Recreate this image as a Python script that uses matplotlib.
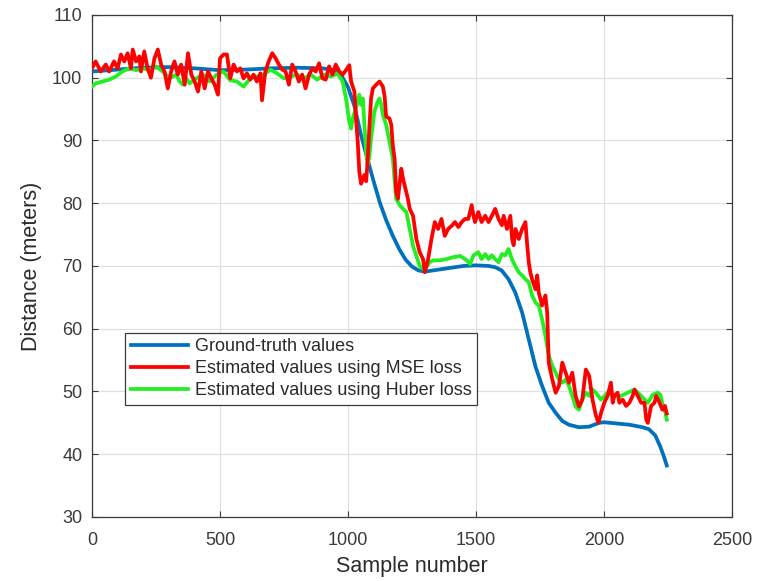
import matplotlib
matplotlib.use("Agg")
import matplotlib.pyplot as plt

plt.rcParams['font.family'] = ['Liberation Sans', 'DejaVu Sans']

# ground truth
gt_x = [0, 100, 200, 300, 400, 500, 600, 700, 800, 900, 950, 975, 1000, 1025, 1050,
        1075, 1100, 1125, 1150, 1175, 1200, 1225, 1250, 1275, 1300, 1350, 1400, 1450,
        1500, 1550, 1575, 1600, 1627, 1653, 1680, 1706, 1732, 1758, 1784, 1811, 1837,
        1863, 1902, 1942, 1981, 2000, 2050, 2100, 2150, 2175, 2200, 2220, 2235, 2245]
gt_y = [101.0, 101.3, 101.6, 101.7, 101.5, 101.2, 101.3, 101.5, 101.6, 101.5, 101.2,
        100.3, 98.5, 95.5, 91.0, 87.2, 83.5, 80.0, 77.2, 74.8, 72.7, 71.0, 69.9, 69.3,
        69.1, 69.4, 69.7, 70.0, 70.1, 70.0, 69.8, 69.3, 67.9, 65.8, 62.6, 58.3, 54.0,
        50.9, 48.2, 46.6, 45.3, 44.7, 44.3, 44.4, 45.0, 45.1, 44.9, 44.7, 44.3, 44.0,
        43.0, 41.2, 39.5, 38.2]

# estimates with MSE loss
mse_x = [0, 14, 34, 54, 67, 86, 100, 113, 126, 139, 152, 159, 172, 185, 191, 204, 217,
         230, 244, 257, 270, 283, 296, 309, 322, 335, 348, 362, 375, 388, 401, 414, 427,
         440, 453, 466, 479, 492, 500, 514, 527, 540, 553, 566, 579, 592, 605, 618, 631,
         644, 658, 664, 677, 690, 704, 717, 730, 743, 756, 769, 782, 795, 808, 821, 834,
         848, 861, 874, 887, 900, 913, 926, 939, 952, 966, 979, 992, 1005, 1012, 1025,
         1031, 1038, 1044, 1051, 1064, 1071, 1077, 1084, 1090, 1097, 1110, 1123, 1136,
         1143, 1149, 1162, 1169, 1175, 1182, 1188, 1195, 1208, 1215, 1221, 1234, 1241,
         1254, 1267, 1280, 1293, 1300, 1313, 1326, 1339, 1352, 1365, 1378, 1391, 1405,
         1418, 1431, 1444, 1457, 1470, 1483, 1490, 1496, 1509, 1522, 1536, 1549, 1562,
         1575, 1588, 1601, 1608, 1621, 1634, 1641, 1647, 1654, 1667, 1680, 1693, 1700,
         1706, 1712, 1719, 1732, 1739, 1745, 1758, 1771, 1778, 1784, 1798, 1811, 1824,
         1837, 1850, 1863, 1876, 1889, 1902, 1915, 1929, 1942, 1955, 1968, 1978, 1990,
         2001, 2014, 2027, 2034, 2040, 2053, 2060, 2073, 2086, 2099, 2112, 2119, 2132,
         2145, 2158, 2165, 2171, 2184, 2197, 2204, 2217, 2228, 2238, 2245]
mse_y = [101.5, 102.6, 101.0, 102.1, 101.0, 102.6, 101.5, 103.7, 102.6, 103.9, 101.5,
         104.5, 102.6, 103.4, 101.0, 104.2, 101.5, 100.0, 103.1, 104.5, 102.1, 101.0,
         98.3, 101.0, 102.6, 100.5, 102.1, 98.9, 103.9, 100.5, 99.4, 97.8, 101.0, 98.3,
         101.0, 99.9, 98.9, 97.3, 103.1, 103.7, 103.7, 99.9, 102.1, 101.0, 101.5, 99.9,
         100.7, 99.7, 100.5, 99.4, 100.7, 96.4, 101.0, 102.6, 103.9, 103.1, 102.1, 101.3,
         101.0, 98.9, 102.1, 101.0, 99.4, 100.5, 98.3, 100.5, 101.5, 101.0, 102.3, 99.9,
         99.7, 101.8, 100.5, 102.1, 101.0, 100.5, 101.2, 102.0, 99.4, 97.8, 93.5, 89.8,
         85.0, 83.1, 84.5, 83.5, 87.1, 92.5, 96.7, 98.3, 98.9, 99.4, 98.6, 97.0, 93.8,
         93.5, 92.5, 89.2, 87.1, 81.8, 80.7, 85.5, 83.9, 82.9, 80.7, 79.1, 78.0, 74.3,
         72.2, 71.1, 69.0, 71.1, 74.3, 77.0, 75.9, 77.5, 74.8, 75.9, 76.4, 77.0, 76.2,
         77.0, 77.5, 77.5, 79.7, 78.0, 77.0, 78.6, 77.0, 78.0, 77.0, 78.0, 79.1, 77.5,
         76.5, 78.0, 75.9, 78.0, 74.3, 73.3, 75.9, 74.3, 75.9, 77.0, 73.3, 70.6, 69.0,
         67.9, 66.3, 68.5, 65.8, 63.7, 65.3, 62.6, 54.6, 51.9, 49.8, 50.9, 54.6, 53.0,
         51.4, 53.0, 49.3, 47.6, 48.7, 53.5, 52.5, 48.7, 46.2, 45.0, 46.8, 48.2, 49.3,
         51.4, 48.2, 49.3, 49.8, 48.2, 48.7, 47.7, 48.2, 49.3, 50.3, 49.3, 48.2, 48.2,
         45.5, 45.0, 47.7, 48.2, 49.3, 48.2, 47.1, 47.7, 46.5]

# estimates with Huber loss
hub_x = [0, 14, 40, 67, 93, 119, 145, 172, 198, 224, 250, 276, 303, 329, 342, 355, 368,
         381, 407, 434, 460, 487, 513, 540, 566, 592, 618, 644, 671, 697, 723, 749, 776,
         802, 828, 854, 880, 906, 933, 959, 979, 992, 1005, 1012, 1018, 1031, 1044,
         1051, 1058, 1064, 1071, 1077, 1084, 1090, 1097, 1103, 1116, 1123, 1130, 1136,
         1149, 1162, 1175, 1188, 1202, 1215, 1228, 1241, 1254, 1267, 1280, 1293, 1306,
         1319, 1333, 1359, 1385, 1411, 1438, 1464, 1477, 1490, 1509, 1522, 1536, 1549,
         1562, 1575, 1588, 1601, 1614, 1627, 1640, 1653, 1667, 1680, 1693, 1706, 1719,
         1732, 1745, 1758, 1771, 1784, 1798, 1811, 1824, 1837, 1850, 1863, 1876, 1889,
         1902, 1915, 1929, 1942, 1955, 1968, 1988, 2014, 2040, 2066, 2093, 2119, 2145,
         2171, 2191, 2210, 2220, 2230, 2240, 2245]
hub_y = [98.6, 99.1, 99.4, 99.7, 100.2, 101.0, 101.5, 101.2, 101.5, 101.2, 101.8, 101.0,
         99.9, 100.5, 99.4, 98.9, 99.9, 99.1, 99.9, 100.5, 99.4, 100.5, 101.0, 99.6,
         99.4, 98.6, 99.9, 100.2, 100.5, 101.3, 100.7, 99.9, 100.2, 100.5, 99.9, 100.5,
         99.7, 100.5, 100.2, 100.7, 99.4, 96.7, 93.0, 91.9, 93.5, 95.1, 97.3, 95.7, 96.7,
         92.5, 88.2, 86.1, 87.7, 90.3, 92.5, 94.6, 96.2, 96.7, 95.7, 94.1, 92.5, 89.8,
         87.1, 80.7, 79.7, 79.1, 78.6, 75.9, 73.2, 71.6, 70.0, 69.5, 69.8, 70.6, 70.9,
         70.9, 71.1, 71.4, 71.6, 70.9, 70.3, 71.7, 72.2, 71.1, 71.9, 71.1, 71.7, 71.1,
         70.6, 71.9, 71.7, 72.7, 71.1, 70.0, 69.0, 68.5, 67.9, 67.4, 65.3, 64.2, 63.7,
         61.5, 58.9, 55.7, 54.1, 53.0, 51.9, 51.4, 51.9, 50.9, 49.3, 47.6, 47.1, 48.7,
         49.8, 49.3, 50.3, 49.8, 48.7, 49.8, 49.3, 49.3, 49.8, 50.3, 49.3, 48.2, 49.5,
         49.8, 49.5, 47.7, 46.6, 45.5]

fig = plt.figure(figsize=(7.63, 5.81), dpi=100)
ax = fig.add_axes([0.1206, 0.1102, 0.8388, 0.864])

lw = 2.7
l1, = ax.plot(gt_x, gt_y, color='#0072BD', lw=lw, label='Ground-truth values', zorder=3)
l3, = ax.plot(hub_x, hub_y, color='#22ee22', lw=lw,
              label='Estimated values using Huber loss', zorder=4)
l2, = ax.plot(mse_x, mse_y, color='#ff0000', lw=lw,
              label='Estimated values using MSE loss', zorder=5)

ax.set_xlim(0, 2500)
ax.set_ylim(30, 110)
ax.set_xticks(range(0, 2501, 500))
ax.set_yticks(range(30, 111, 10))
ax.grid(True, color='#e0e0e0', lw=0.9)
ax.set_axisbelow(True)
ax.tick_params(direction='in', length=4, labelsize=13, colors='#3a3a3a',
               top=True, right=True)
ax.tick_params(axis='x', pad=11)
ax.tick_params(axis='y', pad=7)
for s in ax.spines.values():
    s.set_color('#3a3a3a')
    s.set_linewidth(0.9)

ax.set_xlabel('Sample number', fontsize=15.5, color='#2a2a2a', labelpad=5)
ax.set_ylabel('Distance (meters)', fontsize=15.5, color='#2a2a2a', labelpad=7)

leg = ax.legend(handles=[l1, l2, l3], loc='upper left', bbox_to_anchor=(0.052, 0.367),
                fontsize=13, handlelength=3.2, handletextpad=0.35, labelspacing=0.28,
                borderpad=0.3, borderaxespad=0, fancybox=False, framealpha=1,
                edgecolor='#3a3a3a', labelcolor='#2a2a2a')
leg.get_frame().set_linewidth(0.9)

fig.savefig('out.png', dpi=100)
